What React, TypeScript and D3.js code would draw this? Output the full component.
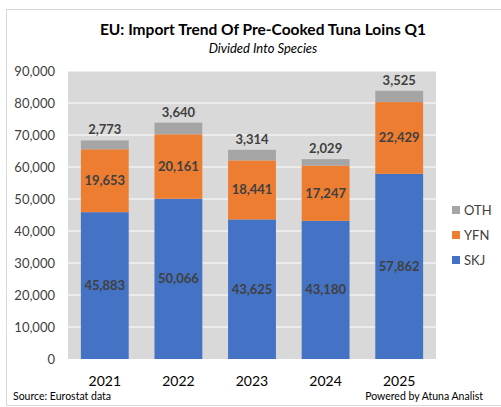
import React from 'react';
import * as d3 from 'd3';

const years = ['2021', '2022', '2023', '2024', '2025'];
const skj = [45883, 50066, 43625, 43180, 57862];
const yfn = [19653, 20161, 18441, 17247, 22429];
const oth = [2773, 3640, 3314, 2029, 3525];
const yTicks = [0, 10000, 20000, 30000, 40000, 50000, 60000, 70000, 80000, 90000];
const seriesNames = ['SKJ', 'YFN', 'OTH'];
const colors: Record<string, string> = { SKJ: '#4472C4', YFN: '#ED7D31', OTH: '#A5A5A5' };

const W = 501, H = 407;
const margin = { top: 71, right: 65, bottom: 48, left: 68 };
const font = 'Lato, "Open Sans", sans-serif';

export default function App() {
  const rows = years.map((y, i) => ({ year: y, SKJ: skj[i], YFN: yfn[i], OTH: oth[i] }));
  const stack = d3.stack<any>().keys(seriesNames)(rows);

  const x = d3.scaleBand().domain(years).range([margin.left, W - margin.right]).paddingInner(0.35).paddingOuter(0.175);
  const y = d3.scaleLinear().domain([0, 90000]).range([H - margin.bottom, margin.top]);
  const fmt = d3.format(',');

  return (
    <svg width={W} height={H} style={{ position: 'absolute', left: 0, top: 0, background: '#fff' }} fontFamily={font}>
      <rect x={6.5} y={9.5} width={500} height={396} fill="#fff" stroke="#d9d9d9" />
      <text x={263} y={35} textAnchor="middle" fontSize={15.5} fontWeight="bold" fill="#000">
        EU: Import Trend Of Pre-Cooked Tuna Loins Q1
      </text>
      <text x={263} y={53} textAnchor="middle" fontSize={13} fontStyle="italic" fill="#000">
        Divided Into Species
      </text>

      <rect x={margin.left} y={margin.top} width={W - margin.right - margin.left} height={H - margin.bottom - margin.top} fill="#d9d9d9" />
      {yTicks.map(t => (
        <g key={t}>
          {t > 0 && <line x1={margin.left} x2={W - margin.right} y1={y(t)} y2={y(t)} stroke="#fff" strokeWidth={1} />}
          <text x={55} y={y(t) + 4.5} textAnchor="end" fontSize={13} fill="#404040">{fmt(t)}</text>
        </g>
      ))}

      {stack.map(s => (
        <g key={s.key} fill={colors[s.key]}>
          {s.map((d, i) => (
            <rect key={i} x={x(years[i])} width={x.bandwidth()} y={y(d[1])} height={y(d[0]) - y(d[1])} />
          ))}
        </g>
      ))}

      {stack.map(s => s.map((d, i) => {
        const v = d[1] - d[0];
        const cy = s.key === 'OTH' ? y(d[1]) - 6 : (y(d[0]) + y(d[1])) / 2 + 4.5;
        return (
          <text key={s.key + i} x={(x(years[i]) as number) + x.bandwidth() / 2} y={cy} textAnchor="middle"
            fontSize={13} fontWeight="bold" fill="#404040">{fmt(v)}</text>
        );
      }))}

      {years.map(yr => (
        <text key={yr} x={(x(yr) as number) + x.bandwidth() / 2} y={386} textAnchor="middle" fontSize={14} fill="#000">{yr}</text>
      ))}

      {[...seriesNames].reverse().map((k, i) => (
        <g key={k} transform={`translate(452,${206 + i * 25})`}>
          <rect x={0} y={0} width={8} height={8} fill={colors[k]} />
          <text x={12} y={8.5} fontSize={13} fill="#404040">{k}</text>
        </g>
      ))}

      <text x={13} y={400} fontSize={10.5} fill="#000">Source: Eurostat  data</text>
      <text x={483} y={400} textAnchor="end" fontSize={10.5} fill="#000">Powered by Atuna Analist</text>
    </svg>
  );
}
